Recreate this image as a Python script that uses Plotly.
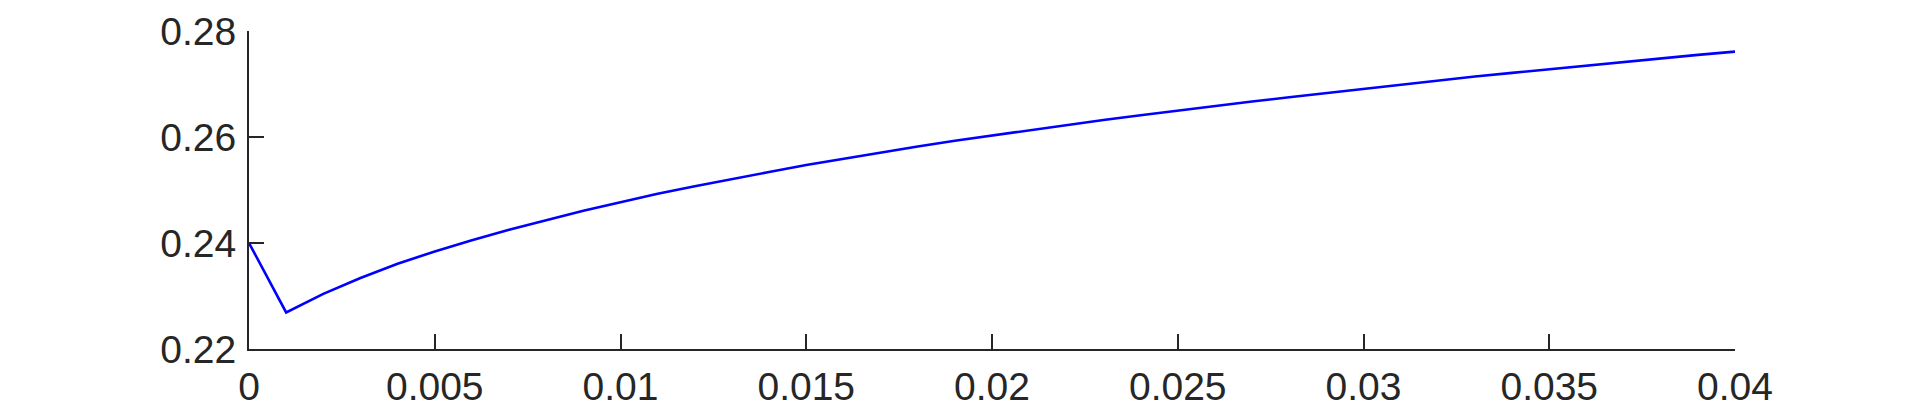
import plotly.graph_objects as go

# Values (step 0.001)
x_vals = [0.000, 0.001, 0.002, 0.003, 0.004, 0.005, 0.006, 0.007, 0.008, 0.009,
          0.010, 0.011, 0.012, 0.013, 0.014, 0.015, 0.016, 0.017, 0.018, 0.019,
          0.020, 0.021, 0.022, 0.023, 0.024, 0.025, 0.026, 0.027, 0.028, 0.029,
          0.030, 0.031, 0.032, 0.033, 0.034, 0.035, 0.036, 0.037, 0.038, 0.039,
          0.040]
y_vals = [0.2400, 0.2269, 0.2304, 0.2334, 0.2361, 0.2384, 0.2405, 0.2425, 0.2443, 0.2461,
          0.2477, 0.2493, 0.2507, 0.2521, 0.2534, 0.2547, 0.2559, 0.2571, 0.2582, 0.2593,
          0.2603, 0.2613, 0.2622, 0.2632, 0.2641, 0.2650, 0.2658, 0.2667, 0.2675, 0.2683,
          0.2691, 0.2699, 0.2706, 0.2714, 0.2721, 0.2728, 0.2735, 0.2742, 0.2749, 0.2755,
          0.2761]

x_ticks = [0, 0.005, 0.01, 0.015, 0.02, 0.025, 0.03, 0.035, 0.04]
x_labels = ['0', '0.005', '0.01', '0.015', '0.02', '0.025', '0.03', '0.035', '0.04']
y_ticks = [0.22, 0.24, 0.26, 0.28]
y_labels = ['0.22', '0.24', '0.26', '0.28']

axis_color = '#262626'

fig = go.Figure()
fig.add_trace(go.Scatter(
    x=x_vals,
    y=y_vals,
    mode='lines',
    line=dict(color='#0000ff', width=2.6),
    showlegend=False
))

common = dict(
    showgrid=False,
    zeroline=False,
    showline=True,
    linecolor=axis_color,
    linewidth=2,
    ticks='inside',
    ticklen=15,
    tickwidth=2,
    tickcolor=axis_color,
    automargin=False,
    tickfont=dict(family='Liberation Sans, Arial, sans-serif', size=39, color=axis_color),
)

fig.update_xaxes(range=[0, 0.04], tickvals=x_ticks, ticktext=x_labels,
                 ticklabelstandoff=2, **common)
fig.update_yaxes(range=[0.22, 0.28], tickvals=y_ticks, ticktext=y_labels,
                 ticklabelstandoff=3, **common)

# page body adds an 8px margin, so the figure is a bit smaller than the window
fig.update_layout(
    width=1902,
    height=403,
    margin=dict(l=241, r=175, t=23, b=62),
    paper_bgcolor='white',
    plot_bgcolor='white',
)

fig.write_html("out.html")
